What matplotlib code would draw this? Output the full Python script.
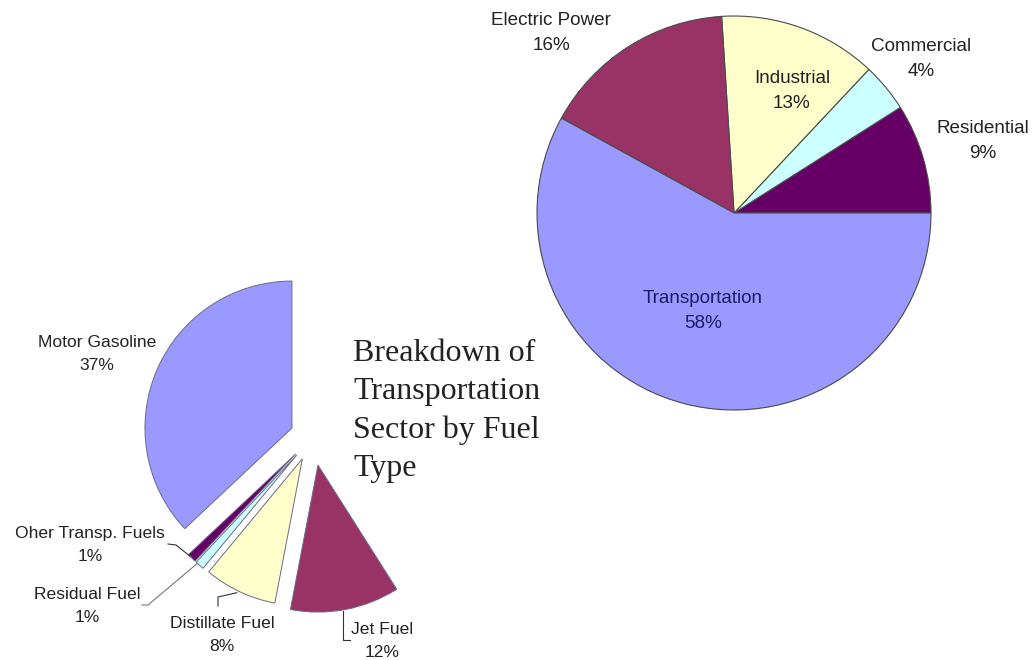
import matplotlib
matplotlib.use("Agg")
import matplotlib.pyplot as plt
import numpy as np

# U.S. petroleum consumption by end-use sector (percent)
sectors = ["Residential", "Commercial", "Industrial", "Electric Power", "Transportation"]
sector_share = [9, 4, 13, 16, 58]

# Transportation sector broken down by fuel type (percent of total)
fuels = ["Motor Gasoline", "Oher Transp. Fuels", "Residual Fuel", "Distillate Fuel", "Jet Fuel"]
fuel_share = [37, 1, 1, 8, 12]

title_text = "Breakdown of\nTransportation\nSector by Fuel\nType"

# Excel classic palette
sector_colors = ["#660066", "#CCFFFF", "#FFFFCC", "#993366", "#9999FF"]
fuel_colors = ["#9999FF", "#660066", "#CCFFFF", "#FFFFCC", "#993366"]

W, H = 1035, 660
fig = plt.figure(figsize=(W / 100, H / 100), dpi=100)
ax = fig.add_axes([0, 0, 1, 1])


def sy(y):
    """Convert a top-down pixel row to the y-up data coordinate."""
    return H - y


label_font = ["Liberation Sans", "DejaVu Sans"]

# ---- main pie: all sectors ----
big_center = (734, sy(213))
big_radius = 197
big_wedges, _ = ax.pie(
    sector_share, colors=sector_colors, startangle=0, counterclock=True,
    center=big_center, radius=big_radius, frame=True,
    wedgeprops=dict(edgecolor="#4a4a4a", linewidth=0.8),
)

big_label_pos = [(983, 141), (921, 59), (792, 91), (551, 33), (703, 311)]
big_label_col = ["#222222", "#222222", "#222222", "#222222", "#1c1c66"]
for name, val, (lx, ly), c in zip(sectors, sector_share, big_label_pos, big_label_col):
    ax.text(lx, sy(ly), f"{name}\n{val}%", ha="center", va="center",
            fontsize=13.6, family=label_font, color=c, linespacing=1.6)

# ---- exploded partial pie: transportation fuels ----
small_center = (312.6, sy(437))
small_radius = 147
fuel_frac = [v / 100 for v in fuel_share]
explode = [22.5, 24, 24, 24, 28.6]
small_wedges, _ = ax.pie(
    fuel_frac, colors=fuel_colors, startangle=90, counterclock=True,
    normalize=False, center=small_center, radius=small_radius,
    explode=explode, frame=True,
    wedgeprops=dict(edgecolor="#6a6a8a", linewidth=0.7),
)

ax.set_xlim(0, W)
ax.set_ylim(0, H)
ax.set_aspect("equal")
ax.axis("off")


def outer_mid(w):
    """Midpoint of a wedge's outer arc in data coordinates."""
    th = np.deg2rad(0.5 * (w.theta1 + w.theta2))
    cx, cy = w.center
    return cx + w.r * np.cos(th), cy + w.r * np.sin(th)


small_label_pos = [(97, 354), (90, 545), (87, 606), (222, 635), (382, 641)]
for name, val, (lx, ly) in zip(fuels, fuel_share, small_label_pos):
    ax.text(lx, sy(ly), f"{name}\n{val}%", ha="center", va="center",
            fontsize=12.6, family=label_font, color="#222222", linespacing=1.6)

# leader lines from labels to their wedges
lc = dict(color="#333333", linewidth=0.8)
ox, oy = outer_mid(small_wedges[1])
ax.plot([168, 176, ox - 2], [sy(544), sy(545), oy + 2], **lc)
rx, ry = outer_mid(small_wedges[2])
ax.plot([142, 148, rx - 2], [sy(605), sy(605), ry + 2], color="#777777", linewidth=0.8)
dx, dy = outer_mid(small_wedges[3])
ax.plot([218, 218, dx - 3], [sy(606), sy(597), dy - 1], **lc)
jx, jy = outer_mid(small_wedges[4])
ax.plot([jx - 3, jx - 3, 350], [jy - 2, sy(640), sy(640)], **lc)

# side title
ax.text(353, sy(411), title_text, ha="left", va="center", fontsize=23,
        family=["Liberation Serif", "DejaVu Serif"], color="#222222",
        linespacing=1.4)

fig.savefig("out.png", dpi=100, facecolor="white")
